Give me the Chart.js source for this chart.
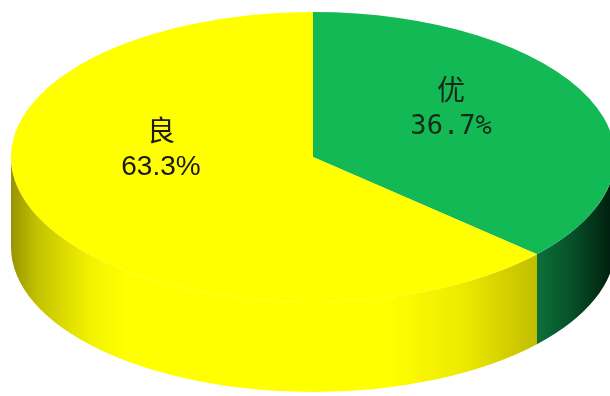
<!DOCTYPE html>
<html lang="zh">
<head>
<meta charset="UTF-8">
<title>优良比例</title>
<script src="https://cdn.jsdelivr.net/npm/chart.js"></script>
<style>
  html, body { margin: 0; background: #fff; }
  #wrap { width: 610px; height: 396px; }
</style>
</head>
<body>
<div id="wrap"><canvas id="pie" width="610" height="396"></canvas></div>
<script>
const categories = ['优', '良'];
const shares = [36.7, 63.3];
const topColors = ['#12b955', '#ffff00'];

// fake 3d disc: radius, vertical squash, centre y of top face, wall height
const RX = 302, SQUASH = 0.48, CY = 157, DEPTH = 90;
const sideStops = [
  [[0, '#0c7038'], [0.45, '#075028'], [1, '#001a0a']],
  [[0, '#969400'], [0.05, '#c4c200'], [0.15, '#f2f200'], [0.22, '#ffff00'], [0.72, '#ffff00'], [0.86, '#ecea00'], [1, '#c2bd00']]
];
const labelStyle = [
  { name: '28px "Noto Sans CJK SC"', pct: '27px "DejaVu Sans Mono"', color: '#112a18', dx: 0, dy: -20 },
  { name: '28px "Noto Sans CJK SC"', pct: '28px "Liberation Sans"', color: '#1a1a1a', dx: -14, dy: -38 }
];

const disc = {
  id: 'disc',
  beforeDatasetsDraw(chart) {
    const ctx = chart.ctx;
    const arcs = chart.getDatasetMeta(0).data;
    arcs.forEach((arc, i) => {
      const a0 = Math.max(arc.startAngle, 0), a1 = Math.min(arc.endAngle, Math.PI);
      if (a1 <= a0) return;
      const R = arc.outerRadius, ry = R * SQUASH;
      const xl = arc.x + R * Math.cos(a1), xr = arc.x + R * Math.cos(a0);
      const g = ctx.createLinearGradient(xl, 0, xr, 0);
      sideStops[i].forEach(s => g.addColorStop(s[0], s[1]));
      ctx.beginPath();
      ctx.ellipse(arc.x, CY, R, ry, 0, a0, a1, false);
      ctx.ellipse(arc.x, CY + DEPTH, R, ry, 0, a1, a0, true);
      ctx.closePath();
      ctx.fillStyle = g;
      ctx.fill();
    });
    const y0 = arcs[0].y;
    ctx.save();
    ctx.translate(0, CY);
    ctx.scale(1, SQUASH);
    ctx.translate(0, -y0);
  },
  afterDatasetsDraw(chart) {
    const ctx = chart.ctx;
    ctx.restore();
    const arcs = chart.getDatasetMeta(0).data;
    ctx.save();
    ctx.textAlign = 'center';
    ctx.textBaseline = 'middle';
    arcs.forEach((arc, i) => {
      const mid = (arc.startAngle + arc.endAngle) / 2;
      const r = arc.outerRadius * 0.5;
      const st = labelStyle[i];
      const px = arc.x + r * Math.cos(mid) + st.dx;
      const py = CY + r * SQUASH * Math.sin(mid) + st.dy;
      ctx.fillStyle = st.color;
      ctx.font = st.name;
      ctx.fillText(categories[i], px, py - 18);
      ctx.font = st.pct;
      ctx.fillText(shares[i].toFixed(1) + '%', px, py + 19);
    });
    ctx.restore();
  }
};

new Chart(document.getElementById('pie'), {
  type: 'pie',
  data: {
    labels: categories,
    datasets: [{ data: shares, backgroundColor: topColors, borderWidth: 0, clip: false }]
  },
  options: {
    responsive: false,
    animation: false,
    events: [],
    radius: RX,
    layout: { padding: { left: 16 } },
    plugins: { legend: { display: false }, tooltip: { enabled: false } }
  },
  plugins: [disc]
});
</script>
</body>
</html>
